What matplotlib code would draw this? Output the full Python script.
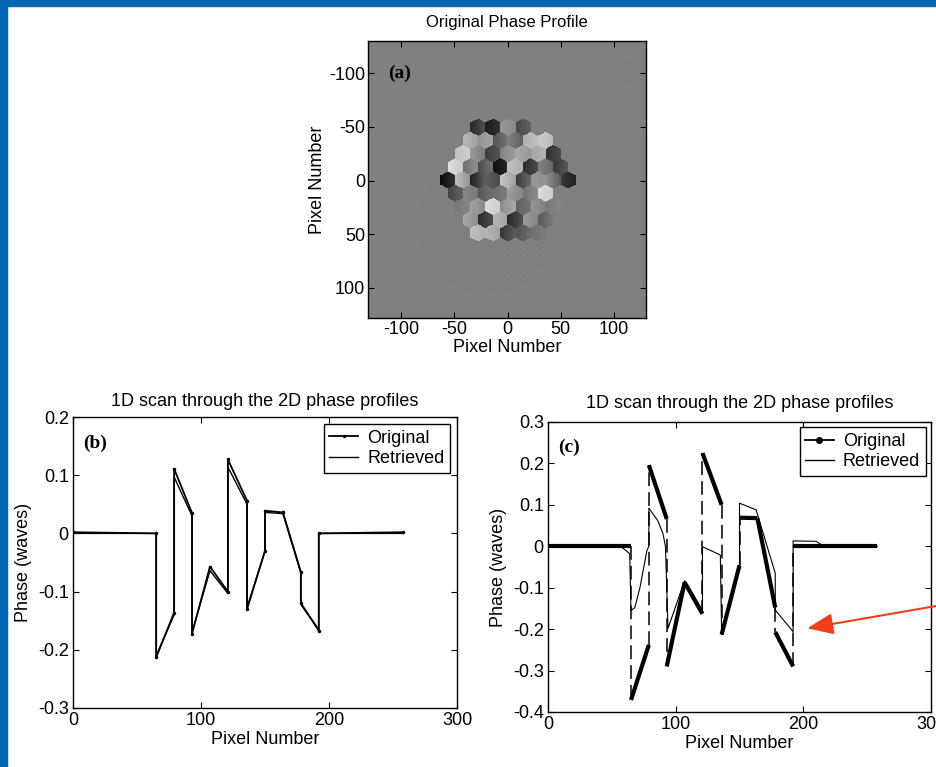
import numpy as np
import matplotlib
matplotlib.use('Agg')
import matplotlib.pyplot as plt
from matplotlib.lines import Line2D
from matplotlib.patches import Rectangle

plt.rcParams['font.family'] = ['Liberation Sans', 'DejaVu Sans']
plt.rcParams['axes.unicode_minus'] = False

# ---- panel (a): hexagonal segmented mirror phase (waves) ----
hex_pitch = 14.1
# rows top (-4) to bottom (+4); piston of each segment
row_pistons = [
    [-0.12, -0.16, 0.03, -0.08, 0.0],
    [0.08, 0.05, -0.05, -0.03, 0.10, 0.12],
    [0.13, 0.02, -0.10, 0.03, 0.06, 0.08, -0.12],
    [0.15, 0.0, -0.06, -0.18, 0.10, -0.12, -0.02, -0.10],
    [-0.174, 0.073, -0.116, -0.080, 0.090, -0.085, 0.038, -0.016, -0.145],
    [-0.08, 0.0, -0.05, -0.02, 0.03, 0.0, 0.15, 0.0],
    [0.0, 0.04, 0.15, 0.05, -0.04, 0.02, 0.0],
    [0.05, -0.12, 0.08, -0.12, 0.03, -0.04],
    [0.10, 0.08, -0.10, -0.06, -0.02],
]
# tilt along x of each segment (waves / pixel)
row_tilts = [
    [0.005, 0.003, -0.002, 0.004, 0.0],
    [-0.003, 0.002, 0.004, -0.004, 0.002, -0.002],
    [0.002, -0.004, 0.003, 0.004, -0.003, 0.002, 0.004],
    [-0.003, 0.004, 0.005, 0.003, -0.002, 0.004, -0.003, 0.004],
    [0.0053, -0.0055, 0.0082, -0.0031, -0.0051, 0.0064, -0.0002, -0.0073, -0.0031],
    [0.004, -0.002, 0.003, 0.002, -0.003, 0.003, -0.002, 0.0],
    [0.002, -0.003, -0.002, 0.004, 0.003, -0.003, 0.002],
    [-0.003, 0.004, -0.002, 0.005, -0.003, 0.004],
    [-0.002, -0.003, 0.005, 0.004, 0.002],
]
blob_center = (-20, 42)
blob_axes = (66, 64)
spot_center = (112, -101)
spot_radius = 11

# ---- panel (b): 1D scan, small aberration ----
b_orig_x = [0, 65, 65, 79, 79, 93, 93, 107, 121, 121, 136, 136, 150, 150, 164, 178, 178, 192, 192, 258]
b_orig_y = [0.002, 0, -0.213, -0.136, 0.111, 0.035, -0.172, -0.057, -0.100, 0.127, 0.056, -0.130,
            -0.030, 0.039, 0.036, -0.066, -0.120, -0.167, 0, 0.002]
b_ret_x = [0, 65, 65, 79, 79, 93, 93, 107, 121, 121, 136, 136, 150, 150, 164, 178, 178, 192, 192, 258]
b_ret_y = [0, 0, -0.210, -0.140, 0.097, 0.030, -0.170, -0.064, -0.103, 0.114, 0.050, -0.127,
           -0.030, 0.036, 0.034, -0.068, -0.122, -0.165, 0, 0]

# ---- panel (c): 1D scan, large aberration ----
c_orig_x = [0, 65, 65, 79, 79, 93, 93, 107, 121, 121, 136, 136, 150, 150, 164, 178, 178, 192, 192, 258]
c_orig_y = [0, 0, -0.371, -0.238, 0.196, 0.066, -0.290, -0.087, -0.163, 0.225, 0.100, -0.213,
            -0.046, 0.069, 0.068, -0.148, -0.207, -0.290, 0, 0]
c_ret_x = [0, 57, 64, 65, 68, 72, 77.5, 79, 79, 86, 90, 92, 94, 107, 121, 121, 135, 136, 150, 150,
           163, 178, 178, 192, 192, 210, 216, 258]
c_ret_y = [0, 0, -0.018, -0.155, -0.148, -0.100, -0.010, 0.0, 0.092, 0.062, 0.031, 0.0, -0.198,
           -0.083, -0.155, -0.001, -0.021, -0.213, -0.048, 0.104, 0.088, -0.065, -0.154, -0.206,
           0.013, 0.012, 0.0, 0.0]

# build phase image -------------------------------------------------------------
xs = np.arange(-130, 130) + 0.0
ys = np.arange(-130, 130) + 0.0
X, Y = np.meshgrid(xs, ys)
phase = np.zeros_like(X)

checker = ((np.arange(260)[:, None] + np.arange(260)[None, :]) % 2) * 2 - 1
blob = ((X - blob_center[0]) / blob_axes[0])**2 + ((Y - blob_center[1]) / blob_axes[1])**2 <= 1
phase[blob] = 0.008 * checker[blob]
spot = (X - spot_center[0])**2 + (Y - spot_center[1])**2 <= spot_radius**2
phase[spot] = 0.008 * checker[spot]

row_step = hex_pitch * np.sqrt(3) / 2
for r, (pist, tilt) in enumerate(zip(row_pistons, row_tilts)):
    cy = (r - 4) * row_step
    n = len(pist)
    for k in range(n):
        cx = (k - (n - 1) / 2) * hex_pitch
        dx = X - cx
        dy = Y - cy
        inside = (np.abs(dx) <= hex_pitch / 2) & \
                 (np.abs(dx) / 2 + np.abs(dy) * np.sqrt(3) / 2 <= hex_pitch / 2)
        phase[inside] = pist[k] + tilt[k] * dx[inside]

# figure ------------------------------------------------------------------------
fig = plt.figure(figsize=(9.36, 7.67), dpi=100)
fig.patch.set_facecolor('white')
fig.add_artist(Rectangle((0, 1 - 6 / 767), 1, 6 / 767, transform=fig.transFigure,
                         color='#0067B3', zorder=0))
fig.add_artist(Rectangle((0, 0), 7 / 936, 1, transform=fig.transFigure,
                         color='#0067B3', zorder=0))

fs = 13


def style(ax):
    ax.tick_params(direction='in', top=True, right=True, length=4, width=0.8,
                   labelsize=fs, pad=3)
    for s in ax.spines.values():
        s.set_linewidth(1.0)


ax1 = fig.add_axes([368 / 936, 1 - 318 / 767, 278 / 936, 277 / 767])
ax1.imshow(phase, cmap='gray', vmin=-0.23, vmax=0.23, extent=(-130.5, 129.5, 129.5, -130.5),
           interpolation='nearest', aspect='auto')
ax1.set_xlim(-131, 130)
ax1.set_ylim(128, -130)
ax1.set_xticks([-100, -50, 0, 50, 100])
ax1.set_yticks([-100, -50, 0, 50, 100])
style(ax1)
ax1.tick_params(pad=2)
ax1.set_title('Original Phase Profile', fontsize=12, pad=10)
ax1.set_xlabel('Pixel Number', fontsize=fs, labelpad=1)
ax1.set_ylabel('Pixel Number', fontsize=fs, labelpad=2)
ax1.text(0.072, 0.883, '(a)', transform=ax1.transAxes, fontsize=14, fontweight='bold',
         family='Liberation Serif', va='center')

# (b)
ax2 = fig.add_axes([73 / 936, 1 - 708 / 767, 384 / 936, 291 / 767])
ax2.plot(b_orig_x, b_orig_y, '-', color='k', lw=1.3, marker='.', ms=3, label='Original')
ax2.plot(b_ret_x, b_ret_y, '-', color='k', lw=1.0, label='Retrieved')
ax2.set_xlim(0, 300)
ax2.set_ylim(-0.3, 0.2)
ax2.set_xticks([0, 100, 200, 300])
ax2.set_yticks([-0.3, -0.2, -0.1, 0, 0.1, 0.2])
ax2.set_yticklabels(['-0.3', '-0.2', '-0.1', '0', '0.1', '0.2'])
style(ax2)
ax2.set_title('1D scan through the 2D phase profiles', fontsize=fs, pad=8)
ax2.set_xlabel('Pixel Number', fontsize=fs, labelpad=1)
ax2.set_ylabel('Phase (waves)', fontsize=fs, labelpad=4)
ax2.text(0.026, 0.911, '(b)', transform=ax2.transAxes, fontsize=14, fontweight='bold',
         family='Liberation Serif', va='center')
leg = ax2.legend(loc='upper right', fontsize=fs, fancybox=False, edgecolor='k', framealpha=1,
                 handlelength=1.6, handletextpad=0.5, borderpad=0.3, labelspacing=0.2,
                 borderaxespad=0.4)
leg.get_frame().set_linewidth(1.0)

# (c)
ax3 = fig.add_axes([548 / 936, 1 - 712 / 767, 383 / 936, 290 / 767])
for i in range(len(c_orig_x) - 1):
    sx = [c_orig_x[i], c_orig_x[i + 1]]
    sy = [c_orig_y[i], c_orig_y[i + 1]]
    if sx[0] == sx[1]:
        ax3.plot(sx, sy, color='k', lw=1.1, dashes=(9, 4))
    else:
        ax3.plot(sx, sy, color='k', lw=3.0, solid_capstyle='butt')
ax3.plot(c_ret_x, c_ret_y, '-', color='k', lw=0.8)
ax3.set_xlim(0, 300)
ax3.set_ylim(-0.4, 0.3)
ax3.set_xticks([0, 100, 200, 300])
ax3.set_yticks([-0.4, -0.3, -0.2, -0.1, 0, 0.1, 0.2, 0.3])
ax3.set_yticklabels(['-0.4', '-0.3', '-0.2', '-0.1', '0', '0.1', '0.2', '0.3'])
style(ax3)
ax3.set_title('1D scan through the 2D phase profiles', fontsize=fs, pad=10)
ax3.set_xlabel('Pixel Number', fontsize=fs, labelpad=1)
ax3.set_ylabel('Phase (waves)', fontsize=fs, labelpad=4)
ax3.text(0.026, 0.914, '(c)', transform=ax3.transAxes, fontsize=14, fontweight='bold',
         family='Liberation Serif', va='center')
handles = [Line2D([], [], color='k', lw=1.3, marker='.', ms=8),
           Line2D([], [], color='k', lw=1.0)]
leg = ax3.legend(handles, ['Original', 'Retrieved'], loc='upper right', fontsize=fs,
                 fancybox=False, edgecolor='k', framealpha=1, handlelength=1.6,
                 handletextpad=0.5, borderpad=0.3, labelspacing=0.2, borderaxespad=0.3)
leg.get_frame().set_linewidth(1.0)

# red arrow pointing at the retrieved curve
ax3.annotate('', xy=(203, -0.198), xycoords='data', xytext=(1.01, 0.212),
             textcoords='figure fraction', annotation_clip=False,
             arrowprops=dict(arrowstyle='-|>,head_length=1.6,head_width=0.65',
                             mutation_scale=10, color='#F0401A', lw=1.5,
                             shrinkA=0, shrinkB=0))

fig.savefig('out.png', dpi=100)
